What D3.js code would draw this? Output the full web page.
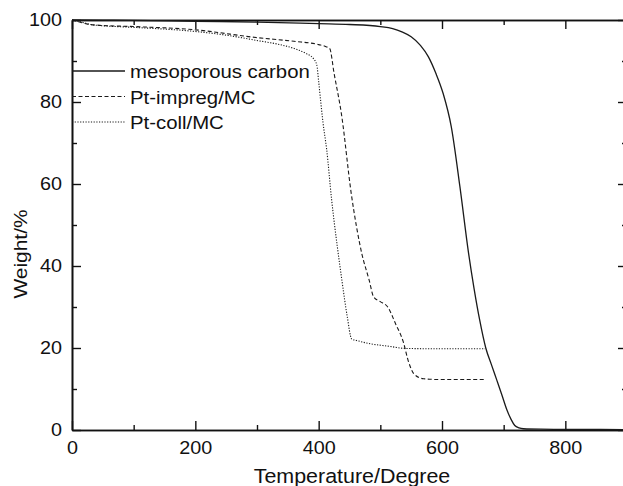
<!DOCTYPE html>
<html>
<head>
<meta charset="utf-8">
<script src="https://cdn.jsdelivr.net/npm/d3@7"></script>
<style>
  body { margin: 0; background: #fff; }
  text { font-family: "Liberation Sans", Arial, sans-serif; fill: #111; }
</style>
</head>
<body>
<svg id="chart" width="623" height="486"></svg>
<script>
// TGA curves (temperature in degree, weight in %)
const carbonT = [0, 50, 100, 200, 300, 400, 450, 500, 520, 535, 550, 565, 578, 590, 602, 615, 629, 643, 652, 661, 671, 680, 689, 697, 705, 712, 718, 725, 732, 760, 820, 900];
const carbonW = [100, 99.95, 99.9, 99.7, 99.5, 99.1, 98.9, 98.4, 97.9, 97.1, 95.9, 93.8, 91, 87, 82, 74, 59.4, 43.2, 34.5, 26.9, 20, 16, 12.1, 8.6, 5, 2.6, 1.1, 0.5, 0.3, 0.2, 0.15, 0.1];

const impregT = [0, 10, 25, 45, 100, 200, 300, 360, 400, 412, 418, 425, 437, 453, 470, 482, 489, 500, 512, 525, 537, 546, 555, 570, 600, 670];
const impregW = [100, 99.6, 99.0, 98.7, 98.4, 97.6, 95.7, 94.8, 94.0, 93.5, 93.0, 87, 77, 57.5, 43, 36.5, 32.5, 31.3, 30, 25.8, 21.6, 16.5, 13.6, 12.5, 12.3, 12.3];

const collT = [0, 10, 20, 30, 50, 100, 200, 250, 300, 340, 365, 380, 392, 397, 400, 403, 407, 413, 421, 430, 437.5, 446, 453.6, 465, 478, 515, 540, 600, 670];
const collW = [100, 99.7, 99.3, 98.9, 98.6, 98.2, 97.2, 96.3, 95, 93.9, 92.8, 91.8, 90.5, 89, 85, 80.6, 75, 68.4, 56.2, 45, 36.7, 28, 22.2, 21.7, 21.2, 20.4, 19.9, 19.8, 19.8];

const seriesNames = ['mesoporous carbon', 'Pt-impreg/MC', 'Pt-coll/MC'];
const xMajor = [0, 200, 400, 600, 800];
const xMinor = [100, 300, 500, 700, 900];
const yMajor = [0, 20, 40, 60, 80, 100];
const yMinor = [10, 30, 50, 70, 90];

const svg = d3.select('#chart');
const margin = {top: 20, left: 72, right: 627, bottom: 430};
const sx = 1.1; // glyphs in the figure are a bit wide

const x = d3.scaleLinear().domain([0, 900]).range([margin.left, margin.right]);
const y = d3.scaleLinear().domain([0, 100]).range([margin.bottom, margin.top]);

// widen text horizontally, keeping its anchor in place
function stretch(sel) {
  sel.each(function() {
    const t = d3.select(this);
    const x0 = +t.attr('x') || 0;
    t.attr('x', x0 / sx).attr('transform', `scale(${sx},1)`);
  });
}

function styleAxis(g) {
  g.select('.domain').attr('stroke', '#111').attr('stroke-width', 1.6);
  g.selectAll('.tick line').attr('stroke', '#111').attr('stroke-width', 1.4);
  g.selectAll('text').attr('font-size', 18).attr('font-family', '"Liberation Sans", Arial, sans-serif').attr('fill', '#111');
}

// bottom axis (labels + minor ticks)
const gx = svg.append('g').attr('transform', `translate(0,${margin.bottom})`)
  .call(d3.axisBottom(x).tickValues(xMajor).tickSizeInner(-9).tickSizeOuter(0).tickPadding(11));
styleAxis(gx);
stretch(gx.selectAll('text'));
const gxm = svg.append('g').attr('transform', `translate(0,${margin.bottom})`)
  .call(d3.axisBottom(x).tickValues(xMinor).tickSizeInner(-5).tickSizeOuter(0).tickFormat(''));
styleAxis(gxm);

// top axis
const gt = svg.append('g').attr('transform', `translate(0,${margin.top})`)
  .call(d3.axisTop(x).tickValues(xMajor).tickSizeInner(-9).tickSizeOuter(0).tickFormat(''));
styleAxis(gt);
const gtm = svg.append('g').attr('transform', `translate(0,${margin.top})`)
  .call(d3.axisTop(x).tickValues(xMinor).tickSizeInner(-5).tickSizeOuter(0).tickFormat(''));
styleAxis(gtm);

// left axis
const gy = svg.append('g').attr('transform', `translate(${margin.left},0)`)
  .call(d3.axisLeft(y).tickValues(yMajor).tickSizeInner(-9).tickSizeOuter(0).tickPadding(10));
styleAxis(gy);
stretch(gy.selectAll('text'));
const gym = svg.append('g').attr('transform', `translate(${margin.left},0)`)
  .call(d3.axisLeft(y).tickValues(yMinor).tickSizeInner(-5).tickSizeOuter(0).tickFormat(''));
styleAxis(gym);

// right axis
const gr = svg.append('g').attr('transform', `translate(${margin.right},0)`)
  .call(d3.axisRight(y).tickValues(yMajor).tickSizeInner(-9).tickSizeOuter(0).tickFormat(''));
styleAxis(gr);
const grm = svg.append('g').attr('transform', `translate(${margin.right},0)`)
  .call(d3.axisRight(y).tickValues(yMinor).tickSizeInner(-5).tickSizeOuter(0).tickFormat(''));
styleAxis(grm);

// axis titles
svg.append('g').attr('transform', 'translate(352,483)')
  .append('text').attr('text-anchor', 'middle').attr('font-size', 19.5)
  .attr('transform', `scale(${sx},1)`).text('Temperature/Degree');
svg.append('g').attr('transform', 'translate(27,254) rotate(-90)')
  .append('text').attr('text-anchor', 'middle').attr('font-size', 19)
  .attr('transform', `scale(${sx},1)`).text('Weight/%');

// curves
const series = [
  {name: seriesNames[0], t: carbonT, w: carbonW, dash: null, width: 1.3},
  {name: seriesNames[1], t: impregT, w: impregW, dash: '4,2.5', width: 1.1},
  {name: seriesNames[2], t: collT, w: collW, dash: '1.2,1.5', width: 1.1}
];

const line = d3.line()
  .x(d => x(d[0]))
  .y(d => y(d[1]))
  .curve(d3.curveMonotoneX);

const plot = svg.append('g');
series.forEach(s => {
  const pts = s.t.map((t, i) => [t, s.w[i]]);
  plot.append('path')
    .attr('d', line(pts))
    .attr('fill', 'none')
    .attr('stroke', '#1a1a1a')
    .attr('stroke-width', s.width)
    .attr('stroke-dasharray', s.dash);
});

// legend
const legendY = [71, 96.5, 122];
series.forEach((s, i) => {
  svg.append('line')
    .attr('x1', 72).attr('x2', 125)
    .attr('y1', legendY[i]).attr('y2', legendY[i])
    .attr('stroke', '#1a1a1a')
    .attr('stroke-width', s.width)
    .attr('stroke-dasharray', s.dash);
  svg.append('g').attr('transform', `translate(130,${legendY[i] + 7})`)
    .append('text').attr('font-size', 18.5)
    .attr('transform', `scale(${sx},1)`).text(s.name);
});
</script>
</body>
</html>
